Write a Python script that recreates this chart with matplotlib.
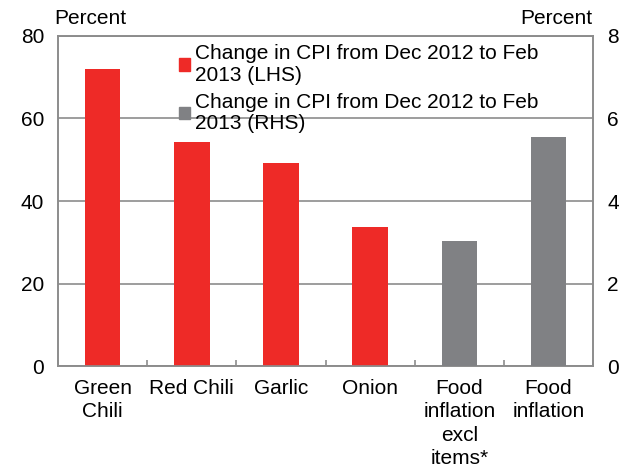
import matplotlib.pyplot as plt
from matplotlib.patches import Patch
import numpy as np

plt.rcParams['font.family'] = ['Liberation Sans', 'DejaVu Sans']

categories = ['Green\nChili', 'Red Chili', 'Garlic', 'Onion',
              'Food\ninflation\nexcl\nitems*', 'Food\ninflation']
lhs_values = [72.0, 54.2, 49.3, 33.8]   # Green chili .. Onion (LHS)
rhs_values = [3.02, 5.55]               # food inflation series (RHS)
lhs_label = 'Change in CPI from Dec 2012 to Feb\n2013 (LHS)'
rhs_label = 'Change in CPI from Dec 2012 to Feb\n2013 (RHS)'

red = '#ee2a27'
grey = '#808184'
edge = '#8c8c8c'
fs = 15

fig = plt.figure(figsize=(6.27, 4.73), dpi=100)
ax = fig.add_axes([0.0925, 0.226, 0.8535, 0.698])
ax2 = ax.twinx()

x = np.arange(len(categories))
n_l = len(lhs_values)
ax.bar(x[:n_l], lhs_values, width=0.4, color=red, zorder=3)
ax2.bar(x[n_l:], rhs_values, width=0.4, color=grey, zorder=3)

ax.set_xlim(-0.5, len(categories) - 0.5)
ax.set_ylim(0, 80)
ax2.set_ylim(0, 8)
ax.set_yticks([0, 20, 40, 60, 80])
ax2.set_yticks([0, 2, 4, 6, 8])
ax.yaxis.grid(True, color=edge, lw=1.2, zorder=0)
ax.set_axisbelow(True)

ax.set_xticks(x)
ax.set_xticklabels(categories, fontsize=fs, linespacing=1.3)
ax.set_xticks(np.arange(len(categories) + 1) - 0.5, minor=True)
ax.tick_params(axis='x', which='major', length=0, pad=9)
ax.tick_params(axis='x', which='minor', direction='in', length=4, color=edge, width=1.2)
ax.tick_params(axis='y', length=0, labelsize=fs, pad=10)
ax2.tick_params(axis='y', length=0, labelsize=fs, pad=10)

for a in (ax, ax2):
    for s in a.spines.values():
        s.set_color(edge)
        s.set_linewidth(1.2)

fig.text(0.086, 0.94, 'Percent', fontsize=fs, ha='left', va='bottom')
fig.text(0.944, 0.94, 'Percent', fontsize=fs, ha='right', va='bottom')

handles = [Patch(color=red), Patch(color=grey)]
leg = ax.legend(handles, [lhs_label, rhs_label], loc='upper left',
                bbox_to_anchor=(0.21, 1.0), frameon=False, fontsize=fs,
                handlelength=0.55, handleheight=0.55, handletextpad=0.25,
                labelspacing=0.4, borderaxespad=0)
for t in leg.get_texts():
    t.set_linespacing(1.15)

fig.savefig('out.png', dpi=100)
